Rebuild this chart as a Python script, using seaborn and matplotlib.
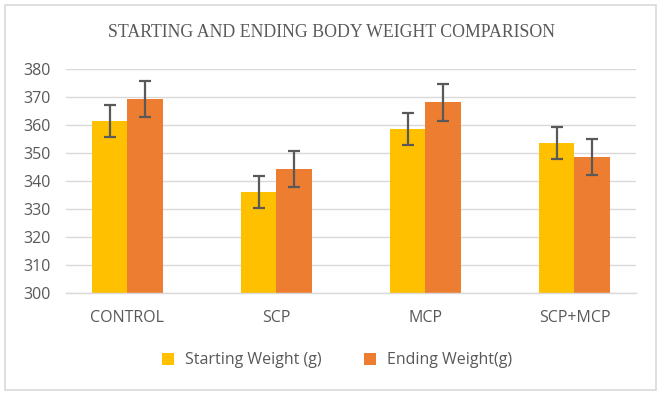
import numpy as np
import pandas as pd
import seaborn as sns
import matplotlib.pyplot as plt
from matplotlib.patches import Rectangle
from matplotlib.lines import Line2D

# values
groups = ["CONTROL", "SCP", "MCP", "SCP+MCP"]
series = ["Starting Weight (g)", "Ending Weight(g)"]
start_weight = [361.5, 336.0, 358.6, 353.6]
end_weight = [369.3, 344.3, 368.2, 348.7]
start_err = [5.8, 5.7, 5.8, 5.7]
end_err = [6.5, 6.5, 6.6, 6.5]
yticks = [300, 310, 320, 330, 340, 350, 360, 370, 380]

colors = ["#FFC000", "#ED7D31"]
grey = "#595959"

df = pd.DataFrame({
    "group": groups * 2,
    "series": [series[0]] * 4 + [series[1]] * 4,
    "weight": start_weight + end_weight,
})

sns.set_theme(style="white")
plt.rcParams["font.family"] = ["Open Sans", "DejaVu Sans"]

fig = plt.figure(figsize=(6.64, 3.95), dpi=100)
ax = fig.add_axes([0.099, 0.258, 0.859, 0.567])

sns.barplot(data=df, x="group", y="weight", hue="series", order=groups,
            hue_order=series, palette=colors, width=0.48, errorbar=None,
            saturation=1, linewidth=0, ax=ax, legend=False)

# error bars on the bar centres
for cont, errs in zip(ax.containers, [start_err, end_err]):
    xs = [b.get_x() + b.get_width() / 2 for b in cont]
    ys = [b.get_height() + b.get_y() for b in cont]
    ax.errorbar(xs, ys, yerr=errs, fmt="none", ecolor=grey, elinewidth=1.6,
                capsize=4, capthick=1.6, zorder=5)

ax.set_ylim(300, 380)
ax.set_yticks(yticks)
ax.yaxis.grid(True, color="#D9D9D9", linewidth=1)
ax.set_axisbelow(True)
for s in ["left", "right", "top"]:
    ax.spines[s].set_visible(False)
ax.spines["bottom"].set_color("#D9D9D9")
ax.spines["bottom"].set_linewidth(1)
ax.tick_params(axis="both", length=0, labelsize=11.5, labelcolor=grey)
ax.tick_params(axis="y", pad=11)
ax.tick_params(axis="x", pad=12)
ax.set_xlabel("")
ax.set_ylabel("")

fig.text(0.5, 0.918, "STARTING AND ENDING BODY WEIGHT COMPARISON",
         ha="center", va="center", fontsize=12.8, color=grey,
         family=["Liberation Serif", "DejaVu Serif"])

handles = [Line2D([], [], marker="s", linestyle="none", markersize=8,
                  markerfacecolor=c, markeredgewidth=0) for c in colors]
fig.legend(handles, series, loc="center", bbox_to_anchor=(0.5, 0.088), ncol=2,
           frameon=False, fontsize=11.5, labelcolor=grey, handletextpad=0.1,
           columnspacing=2.0)

fig.patches.append(Rectangle((0.008, 0.012), 0.98, 0.975, transform=fig.transFigure,
                             fill=False, edgecolor="#D9D9D9", linewidth=1.2))

fig.savefig("out.png", dpi=100)
